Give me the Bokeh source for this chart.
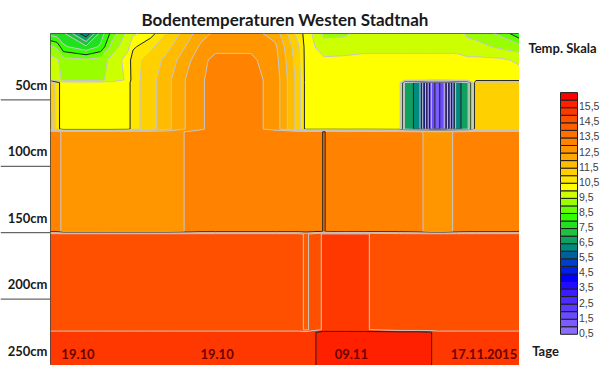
import numpy as np
from bokeh.plotting import figure
from bokeh.layouts import row
from bokeh.models import Range1d, Label, Span
from bokeh.core.properties import value
from bokeh.embed import file_html
from bokeh.resources import INLINE

# measurement times (days since 19.10.2015)
days = [0.0, 0.4, 0.8, 2.2, 3.1, 3.8, 4.8, 5.1, 6.2, 7.3, 8.5, 9.3, 10.2, 12.4, 13.9, 15.3,
        15.8, 16.9, 18.2, 19.4, 21.6, 21.9, 22.8, 23.5, 23.9, 24.4, 25.1, 25.8, 26.3, 27.8, 29.0]
# sensor depths (cm)
depths = [0, 10, 20, 35, 37, 72, 74, 149, 151, 223, 225, 250]

# temperatures (deg C) per depth row, one value per measurement time
t_0cm = [7.3, 7.2, 7.1, 5.6, 7.2, 8.2, 9.2, 9.4, 9.8, 10.6, 11.3, 11.8, 12.1, 12.2, 11.8, 10.3,
         9.8, 8.9, 8.9, 9.3, 9.3, 9.3, 9.3, 9.3, 9.3, 9.3, 9.2, 8.9, 8.8, 8.4, 7.6]
t_10cm = [8.6, 8.4, 7.6, 7.1, 7.6, 8.7, 9.4, 9.9, 10.4, 10.9, 11.6, 12.1, 12.3, 12.4, 12.1, 10.6,
          9.8, 9.2, 9.3, 9.3, 9.3, 9.3, 9.3, 9.3, 9.3, 9.3, 9.3, 9.2, 9.2, 8.9, 8.7]
t_20cm = [9.2, 9.1, 8.7, 8.6, 8.7, 9.2, 9.7, 10.3, 10.7, 11.2, 11.9, 12.3, 12.7, 12.6, 12.2, 10.7,
          9.8, 9.6, 9.6, 9.7, 9.7, 9.7, 9.7, 9.7, 9.7, 9.7, 9.7, 9.6, 9.6, 9.6, 9.4]
t_35cm = [9.3, 9.2, 8.9, 8.8, 8.9, 9.2, 9.6, 10.3, 10.8, 11.4, 12.1, 12.4, 12.8, 12.7, 12.3, 10.8,
          9.8, 9.8, 9.8, 9.8, 9.8, 9.8, 9.8, 9.8, 9.8, 9.8, 9.8, 9.8, 9.8, 9.8, 9.8]
t_37cm = [11.1, 10.2, 9.7, 9.7, 9.7, 9.7, 9.8, 10.3, 10.8, 11.4, 12.1, 12.4, 12.8, 12.7, 12.3, 10.8,
          9.8, 9.8, 9.8, 9.8, 9.7, 6.3, 5.8, 1.6, 0.7, 1.6, 5.8, 6.3, 10.7, 10.7, 10.7]
t_72cm = [11.3, 10.2, 9.7, 9.7, 9.7, 9.7, 9.8, 10.3, 10.8, 11.4, 12.1, 12.4, 12.8, 12.7, 12.3, 10.8,
          9.8, 9.8, 9.8, 9.8, 9.7, 6.3, 5.8, 1.6, 0.7, 1.6, 5.8, 6.3, 10.7, 10.7, 10.7]
t_74cm = [12.8, 12.8, 12.3, 12.3, 12.3, 12.3, 12.3, 12.3, 12.3, 12.3, 12.55, 12.8, 12.8, 12.8, 12.8, 12.8,
          12.7, 13.02, 12.7, 12.8, 12.8, 12.8, 12.6, 12.3, 12.3, 12.3, 12.6, 12.8, 12.8, 12.8, 12.8]
t_149cm = [12.8, 12.8, 12.3, 12.3, 12.3, 12.3, 12.3, 12.3, 12.3, 12.3, 12.55, 12.8, 12.8, 12.8, 12.8, 12.8,
           12.7, 13.02, 12.7, 12.8, 12.8, 12.8, 12.6, 12.3, 12.3, 12.3, 12.6, 12.8, 12.8, 12.8, 12.8]
t_151cm = [14.2, 14.2, 14.2, 14.2, 14.2, 14.2, 14.2, 14.2, 14.2, 14.2, 14.2, 14.2, 14.2, 14.2, 14.2, 14.2,
           13.9, 14.6, 14.6, 14.55, 14.2, 14.2, 14.2, 14.2, 14.2, 14.2, 14.2, 14.2, 14.2, 14.2, 14.2]
t_223cm = [14.2, 14.2, 14.2, 14.2, 14.2, 14.2, 14.2, 14.2, 14.2, 14.2, 14.2, 14.2, 14.2, 14.2, 14.2, 14.2,
           13.9, 14.6, 14.6, 14.55, 14.2, 14.2, 14.2, 14.2, 14.2, 14.2, 14.2, 14.2, 14.2, 14.2, 14.2]
t_225cm = [14.75, 14.75, 14.75, 14.75, 14.75, 14.75, 14.75, 14.75, 14.75, 14.75, 14.75, 14.75, 14.75, 14.75, 14.75, 14.75,
           14.75, 15.2, 15.2, 15.2, 15.2, 15.2, 15.2, 15.05, 14.75, 14.75, 14.75, 14.75, 14.75, 14.75, 14.75]
t_250cm = [14.75, 14.75, 14.75, 14.75, 14.75, 14.75, 14.75, 14.75, 14.75, 14.75, 14.75, 14.75, 14.75, 14.75, 14.75, 14.75,
           14.75, 15.2, 15.2, 15.2, 15.2, 15.2, 15.2, 15.05, 14.75, 14.75, 14.75, 14.75, 14.75, 14.75, 14.75]

depth_ticks = [50, 100, 150, 200, 250]
depth_labels = ["50cm", "100cm", "150cm", "200cm", "250cm"]
day_ticks = [1.7, 10.3, 18.6, 26.8]
day_labels = ["19.10", "19.10", "09.11", "17.11.2015"]
scale_ticks = [0.5, 1.5, 2.5, 3.5, 4.5, 5.5, 6.5, 7.5, 8.5, 9.5, 10.5, 11.5, 12.5, 13.5, 14.5, 15.5]
scale_labels = ["0,5", "1,5", "2,5", "3,5", "4,5", "5,5", "6,5", "7,5", "8,5", "9,5",
                "10,5", "11,5", "12,5", "13,5", "14,5", "15,5"]

# colour bands 0..16 in steps of 0.5
palette = ["#8c6cff", "#7a5cff", "#6a4cff", "#5a3cff", "#4a2cff", "#3a1cff", "#200cff", "#0000ff",
           "#0020e8", "#0040c8", "#00609e", "#008a80", "#10a060", "#20c040", "#20e020", "#30ff00",
           "#66ff00", "#99ff00", "#ccff00", "#ffff00", "#ffe600", "#ffd000", "#ffbb00", "#ffa800",
           "#ff9600", "#ff8200", "#ff7000", "#ff5e00", "#ff5000", "#ff3800", "#ff2000", "#ff0000"]
levels = np.arange(0, 16.01, 0.5)
black_levels = {1, 2, 3, 4, 5, 6, 8, 10, 13, 15}
line_colors = ["#1e1e1e" if float(L) in black_levels else "#c4c4c4" for L in levels]

Z = np.array([t_0cm, t_10cm, t_20cm, t_35cm, t_37cm, t_72cm, t_74cm,
              t_149cm, t_151cm, t_223cm, t_225cm, t_250cm])

FONT = "Lato"
TOP = 33
FRAME_H = 332
y_rng = Range1d(depths[-1], depths[0])

# left panel: depth labels and tick lines
left = figure(width=50, frame_height=FRAME_H, x_range=Range1d(0, 1), y_range=y_rng,
              x_axis_location=None, y_axis_location=None, output_backend="svg",
              toolbar_location=None, min_border=0, min_border_top=TOP, title=None)
left.grid.visible = False
left.outline_line_color = None
for d, lab in zip(depth_ticks, depth_labels):
    left.add_layout(Span(location=d, dimension="width", line_color="#404040", line_width=1))
    left.add_layout(Label(x=47, x_units="screen", y=d, y_units="data", text=lab,
                          text_align="right", text_baseline="bottom", y_offset=7,
                          text_font=FONT, text_font_style="bold", text_font_size="13px",
                          text_color="#1a1a1a"))

# main contour chart
p = figure(frame_width=469, frame_height=FRAME_H,
           x_range=Range1d(days[0], days[-1]), y_range=y_rng,
           x_axis_location=None, y_axis_location=None, output_backend="svg",
           toolbar_location=None, min_border=0, min_border_top=TOP)
p.title.text = "Bodentemperaturen Westen Stadtnah"
p.title.align = "center"
p.title.offset = 15
p.title.standoff = 7
p.title.text_font = FONT
p.title.text_font_style = "bold"
p.title.text_font_size = "17px"
p.title.text_color = "#1a1a1a"
p.grid.visible = False
p.outline_line_color = "#404040"

p.contour(x=days, y=depths, z=Z, levels=levels, fill_color=palette,
          line_color=line_colors, line_width=1)

for d, lab in zip(day_ticks, day_labels):
    p.add_layout(Label(x=d, y=depths[-1], text=lab, text_align="center", text_baseline="bottom",
                       y_offset=7, text_font=FONT, text_font_style="bold", text_font_size="13px",
                       text_color="#6e0000"))

# colour scale legend
leg = figure(width=81, height=TOP + FRAME_H, x_range=Range1d(0, 81), y_range=Range1d(-2.066, 19.914),
             x_axis_location=None, y_axis_location=None, output_backend="svg",
             toolbar_location=None, min_border=0, title=None)
leg.grid.visible = False
leg.outline_line_color = None
leg.quad(left=41, right=58, bottom=levels[:-1], top=levels[1:], fill_color=palette,
         line_color="#1e1e1e", line_width=1)
leg.text(x=[59.5] * len(scale_ticks), y=[t - 0.4 for t in scale_ticks], text=scale_labels,
         text_baseline="middle", text_align="left", text_font=value("Liberation Sans"),
         text_font_size=value("10.5px"), text_color="#404040")
leg.add_layout(Label(x=43, x_units="screen", y=TOP + FRAME_H - 47, y_units="screen",
                     text="Temp. Skala", text_align="center", text_baseline="middle",
                     text_font=FONT, text_font_style="bold", text_font_size="13px",
                     text_color="#1a1a1a"))
leg.add_layout(Label(x=26, x_units="screen", y=7, y_units="screen", text="Tage",
                     text_align="center", text_baseline="bottom", text_font=FONT,
                     text_font_style="bold", text_font_size="13px", text_color="#1a1a1a"))

layout = row(left, p, leg)
open("out.html", "w").write(file_html(layout, INLINE))
